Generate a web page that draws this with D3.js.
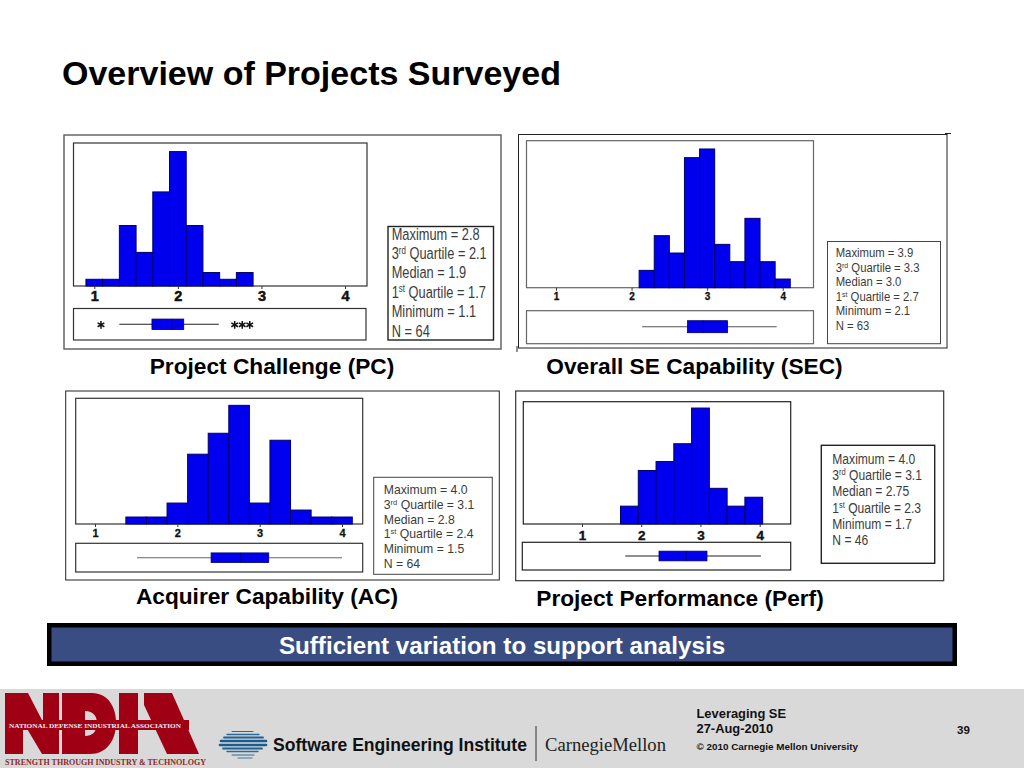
<!DOCTYPE html>
<html>
<head>
<meta charset="utf-8">
<script src="https://cdn.jsdelivr.net/npm/d3@7/dist/d3.min.js"></script>
<style>
html,body{margin:0;padding:0;background:#fff;overflow:hidden}
svg{display:block;font-family:"Liberation Sans",Arial,sans-serif}
</style>
</head>
<body>
<svg id="c" width="1024" height="768"></svg>
<script>
// ---- data ----
const tickValues = [1, 2, 3, 4];

const pcEdges   = [0.9,1.1,1.3,1.5,1.7,1.9,2.1,2.3,2.5,2.7,2.9];
const pcCounts  = [1,1,9,5,14,20,9,2,1,2];
const pcBox     = [1.30,1.69,1.93,2.07,2.49];
const pcOutliers= [1.08,2.68,2.77,2.86];
const pcStats   = ["Maximum = 2.8","3|rd| Quartile = 2.1","Median = 1.9","1|st| Quartile = 1.7","Minimum = 1.1","N = 64"];

const secEdges  = [2.1,2.3,2.5,2.7,2.9,3.1,3.3,3.5,3.7,3.9,4.1];
const secCounts = [2,6,4,15,16,5,3,8,3,1];
const secBox    = [2.14,2.74,2.95,3.27,3.92];
const secOutliers = [];
const secStats  = ["Maximum = 3.9","3|rd| Quartile = 3.3","Median = 3.0","1|st| Quartile = 2.7","Minimum = 2.1","N = 63"];

const acEdges   = [1.375,1.625,1.875,2.125,2.375,2.625,2.875,3.125,3.375,3.625,3.875,4.125];
const acCounts  = [1,1,3,10,13,17,3,12,2,1,1];
const acBox     = [1.51,2.41,2.77,3.11,4.0];
const acOutliers = [];
const acStats   = ["Maximum = 4.0","3|rd| Quartile = 3.1","Median = 2.8","1|st| Quartile = 2.4","Minimum = 1.5","N = 64"];

const perfEdges = [1.65,1.95,2.25,2.55,2.85,3.15,3.45,3.75,4.05];
const perfCounts= [2,6,7,9,13,4,2,3];
const perfBox   = [1.73,2.3,2.76,3.11,4.02];
const perfOutliers = [];
const perfStats = ["Maximum = 4.0","3|rd| Quartile = 3.1","Median = 2.75","1|st| Quartile = 2.3","Minimum = 1.7","N = 46"];

// ---- layout ----
const panels = [
 {edges:pcEdges,counts:pcCounts,box:pcBox,out:pcOutliers,stats:pcStats,
  frame:[64,135,501,349],plot:[73.5,143,367,286],low:[73.5,308.5,366,340],xr:[94.3,345],unit:6.72,maxC:20,
  cy:324.3,bh:10.5,pad:2,tfs:14.5,tstroke:.5,
  sbox:[388,226.5,493.5,340],sboxW:1.4,sx:391.7,sy:[240,259.3,278.3,297.7,317.3,336.7],sfs:17,slen:88,
  frameCol:"#666",frameW:1.5,plotCol:"#333",lineCol:"#222",caption:"Project Challenge (PC)",capX:272,capY:373.5},
 {edges:secEdges,counts:secCounts,box:secBox,out:secOutliers,stats:secStats,
  frame:[518.5,134.5,947,348],plot:[526.5,140.7,813.5,287.7],low:[526.5,310.7,813.5,343.7],xr:[556,782.7],unit:8.67,maxC:16,
  cy:326.7,bh:12,pad:2,tfs:10,tstroke:.3,
  sbox:[827.5,241.5,940.5,343.7],sboxW:1,sx:835.7,sy:[256.7,272,286,300.7,315.3,330],sfs:12.5,slen:77.7,
  frameCol:"#222",frameW:1,plotCol:"#666",lineCol:"#555",caption:"Overall SE Capability (SEC)",capX:694.5,capY:373.5},
 {edges:acEdges,counts:acCounts,box:acBox,out:acOutliers,stats:acStats,
  frame:[65.7,391,499.3,580],plot:[75.7,398.3,362.7,524],low:[75.7,543.3,362.7,572],xr:[95,342],unit:6.98,maxC:17,
  cy:557.7,bh:9.6,pad:2,tfs:11,tstroke:.3,
  sbox:[373.7,477.3,492.3,574.3],sboxW:1,sx:383.7,sy:[493.7,509,523.7,538,553.3,567.7],sfs:13,slen:84,
  frameCol:"#222",frameW:1,plotCol:"#333",lineCol:"#666",caption:"Acquirer Capability (AC)",capX:267,capY:603.5},
 {edges:perfEdges,counts:perfCounts,box:perfBox,out:perfOutliers,stats:perfStats,
  frame:[515.7,391,943.7,580.7],plot:[523.3,401.7,790.7,524],low:[522.3,542.3,790.7,570],xr:[582,759.7],unit:8.92,maxC:13,
  cy:556,bh:9.7,pad:3,tfs:13.5,tstroke:.4,
  sbox:[821.3,445.3,934.7,563.3],sboxW:1.4,sx:832.3,sy:[464.3,480,496.3,513.3,529,545],sfs:14.6,slen:83,
  frameCol:"#333",frameW:1.2,plotCol:"#222",lineCol:"#222",caption:"Project Performance (Perf)",capX:680,capY:605.5}
];

const svg = d3.select("#c");

svg.append("text").attr("x",62).attr("y",85).attr("font-size",34).attr("font-weight",700)
   .attr("fill","#000").text("Overview of Projects Surveyed");

function rect(g,b,fill,stroke,w){
  return g.append("rect").attr("x",b[0]).attr("y",b[1]).attr("width",b[2]-b[0]).attr("height",b[3]-b[1])
    .attr("fill",fill).attr("stroke",stroke).attr("stroke-width",w);
}

panels.forEach(p=>{
  const g = svg.append("g");
  rect(g,p.frame,"#fff",p.frameCol,p.frameW);
  rect(g,p.plot,"#fff",p.plotCol,1.2);
  rect(g,p.low,"#fff",p.plotCol,1.2);

  const x = d3.scaleLinear().domain([1,4]).range(p.xr);
  const base = p.plot[3];
  const y = d3.scaleLinear().domain([0,p.maxC]).range([base,base-p.maxC*p.unit]);

  g.selectAll("rect.bar").data(p.counts).join("rect").attr("class","bar")
    .attr("x",(d,i)=>x(p.edges[i])).attr("width",(d,i)=>x(p.edges[i+1])-x(p.edges[i]))
    .attr("y",d=>y(d)).attr("height",d=>y(0)-y(d))
    .attr("fill","#0000ee").attr("stroke","#00006b").attr("stroke-width",1);

  const axis = g.append("g").attr("transform",`translate(0,${base})`)
    .call(d3.axisBottom(x).tickValues(tickValues).tickFormat(d3.format("d")).tickSize(3).tickPadding(p.pad));
  axis.select(".domain").remove();
  axis.selectAll("line").attr("stroke","#333");
  axis.selectAll("text").attr("font-size",p.tfs).attr("font-weight",700).attr("fill","#111")
      .attr("stroke","#111").attr("stroke-width",p.tstroke)
      .style("font-family","'Liberation Sans',Arial,sans-serif");

  const [lo,q1,med,q3,hi] = p.box;
  g.append("line").attr("x1",x(lo)).attr("x2",x(hi)).attr("y1",p.cy).attr("y2",p.cy)
    .attr("stroke",p.lineCol).attr("stroke-width",1.1);
  g.append("rect").attr("x",x(q1)).attr("width",x(q3)-x(q1)).attr("y",p.cy-p.bh/2).attr("height",p.bh)
    .attr("fill","#0000ee").attr("stroke","#00006b").attr("stroke-width",.8);
  g.append("line").attr("x1",x(med)).attr("x2",x(med)).attr("y1",p.cy-p.bh/2).attr("y2",p.cy+p.bh/2)
    .attr("stroke","#00006b").attr("stroke-width",.8);

  g.selectAll("path.star").data(p.out).join("path").attr("class","star")
    .attr("transform",d=>`translate(${x(d)},${p.cy+.5})`)
    .attr("d",d3.symbol(d3.symbolAsterisk,42)())
    .attr("fill","none").attr("stroke","#111").attr("stroke-width",1.5);

  rect(g,p.sbox,"#fff",p.sboxW>1?"#222":"#444",p.sboxW);

  const sg = p.stats.map((s,i)=>{
    const parts = s.split("|");
    const t = g.append("text").attr("font-size",p.sfs).attr("fill","#3c3c3c");
    if(parts.length===1){ t.text(s); }
    else{
      t.append("tspan").text(parts[0]);
      t.append("tspan").attr("dy",-p.sfs*.33).attr("font-size",p.sfs*.62).text(parts[1]);
      t.append("tspan").attr("dy",p.sfs*.33).text(parts[2]);
    }
    return t;
  });
  const k = p.slen / sg[0].node().getComputedTextLength();
  sg.forEach((t,i)=>t.attr("transform",`translate(${p.sx},${p.sy[i]}) scale(${k},1)`));

  svg.append("text").attr("x",p.capX).attr("y",p.capY).attr("text-anchor","middle")
    .attr("font-size",22.7).attr("font-weight",700).attr("fill","#000").text(p.caption);
});

// corner fragments of the SEC picture
svg.append("path").attr("d","M945 133.5H951M517 346V352").attr("stroke","#222").attr("fill","none");

// banner
svg.append("rect").attr("x",47).attr("y",623).attr("width",910).attr("height",43).attr("fill","#000");
svg.append("rect").attr("x",51.5).attr("y",627.5).attr("width",901).attr("height",34).attr("fill","#3a4d82");
svg.append("text").attr("x",502).attr("y",654).attr("text-anchor","middle").attr("font-size",24.2)
   .attr("font-weight",700).attr("fill","#fff").text("Sufficient variation to support analysis");

// footer
svg.append("rect").attr("x",0).attr("y",689).attr("width",1024).attr("height",79).attr("fill","#d9d9d9");
const red="#a00014";
const logo = svg.append("g").attr("fill",red);
logo.append("path").attr("d","M5 693H28L43 722V693H59V754H42L23 722V754H5Z");
logo.append("path").attr("fill-rule","evenodd").attr("d","M62 693H92C108 693 116 707 116 723C116 741 106 754 90 754H62ZM85 711V736C92 736 97 732 97 723C97 715 92 711 85 711Z");
logo.append("path").attr("d","M119 693H138V754H119Z");
logo.append("path").attr("d","M144 693H172L199 754H167L144 705Z");
logo.append("rect").attr("x",5).attr("y",720).attr("width",184).attr("height",10);
logo.append("text").attr("x",9).attr("y",727.8).attr("font-size",6.6).attr("font-weight",700).attr("fill","#eee")
  .style("font-family","'Liberation Serif',serif").attr("textLength",172).attr("lengthAdjust","spacingAndGlyphs")
  .text("NATIONAL DEFENSE INDUSTRIAL ASSOCIATION");
logo.append("text").attr("x",5).attr("y",765).attr("font-size",8).attr("font-weight",700).attr("fill","#8c2a2a")
  .style("font-family","'Liberation Serif',serif").attr("textLength",201).attr("lengthAdjust","spacingAndGlyphs")
  .text("STRENGTH THROUGH INDUSTRY & TECHNOLOGY");

// SEI emblem
const sei = svg.append("g").attr("stroke-linecap","round");
[[232,253,731.5,"#2a6a9a",1],[227,259,734.5,"#2a6a9a",1.4],[224,263,737.5,"#1f5f92",1.8],[221,266,741,"#1a5c90",2.6],
 [220,266,745,"#1a5c90",2.6],[223,262,748.5,"#1f5f92",1.8],[227,258,751.5,"#2a6a9a",1.4],[232,254,755,"#2a6a9a",1],[238,252,758,"#3a7aaa",1]]
 .forEach(l=>sei.append("line").attr("x1",l[0]).attr("x2",l[1]).attr("y1",l[2]).attr("y2",l[2]).attr("stroke",l[3]).attr("stroke-width",l[4]));
svg.append("text").attr("x",273).attr("y",751).attr("font-size",18.5).attr("font-weight",700).attr("fill","#111")
  .attr("textLength",254).attr("lengthAdjust","spacingAndGlyphs").text("Software Engineering Institute");
svg.append("line").attr("x1",536).attr("x2",536).attr("y1",726).attr("y2",761).attr("stroke","#333").attr("stroke-width",1);
svg.append("text").attr("x",545).attr("y",751).attr("font-size",19).attr("fill","#222")
  .style("font-family","'Liberation Serif',serif").attr("textLength",121).attr("lengthAdjust","spacingAndGlyphs").text("CarnegieMellon");

[["Leveraging SE",696.5,718,12.9],["27-Aug-2010",696.5,733,12.9],["© 2010 Carnegie Mellon University",696.5,750,9.9],["39",957,734,11.5]]
 .forEach(t=>svg.append("text").attr("x",t[1]).attr("y",t[2]).attr("font-size",t[3]).attr("font-weight",700).attr("fill","#111").text(t[0]));
</script>
</body>
</html>
